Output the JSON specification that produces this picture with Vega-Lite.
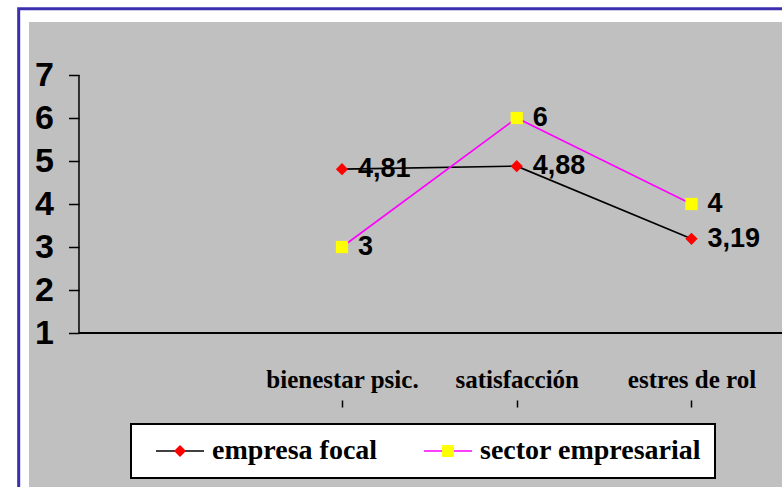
{
  "$schema": "https://vega.github.io/schema/vega-lite/v6.json",
  "width": 753,
  "height": 465,
  "autosize": {"type": "none"},
  "padding": {"left": 29, "top": 22, "right": 0, "bottom": 0},
  "background": "#ffffff",
  "config": {
    "view": {"fill": "#c0c0c0", "stroke": null},
    "locale": {"number": {"decimal": ",", "thousands": ".", "grouping": [3], "currency": ["", " €"]}},
    "axis": {"grid": false, "title": null},
    "legend": {"strokeWidth": 2}
  },
  "data": {"values": [
    {"dimension": "bienestar psic.", "orden": 1, "serie": "empresa focal", "valor": 4.81},
    {"dimension": "satisfacción", "orden": 2, "serie": "empresa focal", "valor": 4.88},
    {"dimension": "estres de rol", "orden": 3, "serie": "empresa focal", "valor": 3.19},
    {"dimension": "bienestar psic.", "orden": 1, "serie": "sector empresarial", "valor": 3},
    {"dimension": "satisfacción", "orden": 2, "serie": "sector empresarial", "valor": 6},
    {"dimension": "estres de rol", "orden": 3, "serie": "sector empresarial", "valor": 4}
  ]},
  "layer": [
    {
      "mark": {"type": "line", "strokeWidth": 1.6},
      "encoding": {
        "x": {
          "field": "orden", "type": "quantitative",
          "scale": {"domain": [-0.791, 3.518], "nice": false, "zero": false},
          "axis": {
            "values": [1, 2, 3],
            "labelExpr": "datum.value == 1 ? 'bienestar psic.' : datum.value == 2 ? 'satisfacción' : 'estres de rol'",
            "offset": -87, "domain": false, "ticks": true, "tickSize": 7, "tickWidth": 1.5, "tickColor": "#000000",
            "labelFont": "Liberation Serif", "labelFontSize": 25, "labelFontWeight": "bold", "labelColor": "#000000",
            "labelBaseline": "alphabetic", "labelPadding": -20, "labelFlush": false, "labelOverlap": false, "title": null
          }
        },
        "y": {
          "field": "valor", "type": "quantitative",
          "scale": {"domain": [-2.5814, 8.2326], "nice": false, "zero": false},
          "axis": {
            "values": [1, 2, 3, 4, 5, 6, 7],
            "offset": -50, "domain": false, "ticks": true, "tickSize": 10.5, "tickWidth": 1.5, "tickColor": "#000000",
            "labelFont": "Liberation Sans", "labelFontSize": 34, "labelFontWeight": "bold", "labelColor": "#000000",
            "labelPadding": 15, "title": null
          }
        },
        "stroke": {
          "field": "serie", "type": "nominal",
          "scale": {"domain": ["empresa focal", "sector empresarial"], "range": ["#000000", "#ff00ff"]},
          "legend": {
            "orient": "none", "legendX": 102, "legendY": 402, "direction": "horizontal", "title": null,
            "fillColor": "#ffffff", "strokeColor": "#000000", "padding": 13, "clipHeight": 28,
            "symbolType": "M-4,0H4", "symbolSize": 144, "symbolStrokeWidth": 1.6, "symbolOffset": 22,
            "labelOffset": 18, "labelFont": "Liberation Serif", "labelFontSize": 28, "labelFontWeight": "bold",
            "labelColor": "#000000", "labelLimit": 400, "columnPadding": 34, "zindex": 1
          }
        }
      }
    },
    {
      "data": {"values": [{}]},
      "mark": {"type": "rect", "filled": false, "stroke": "#3b2fae", "strokeWidth": 3},
      "encoding": {
        "x": {"datum": -0.85, "type": "quantitative", "scale": {"domain": [-0.791, 3.518], "nice": false, "zero": false}},
        "x2": {"datum": 3.8},
        "y": {"datum": 8.542, "type": "quantitative", "scale": {"domain": [-2.5814, 8.2326], "nice": false, "zero": false}},
        "y2": {"datum": -3.5}
      }
    },
    {
      "data": {"values": [{}]},
      "mark": {"type": "rule", "stroke": "#000000", "strokeWidth": 1.5},
      "encoding": {
        "x": {"datum": -0.505, "type": "quantitative", "scale": {"domain": [-0.791, 3.518], "nice": false, "zero": false}},
        "y": {"datum": 1, "type": "quantitative", "scale": {"domain": [-2.5814, 8.2326], "nice": false, "zero": false}},
        "y2": {"datum": 7}
      }
    },
    {
      "data": {"values": [{}]},
      "mark": {"type": "rule", "stroke": "#000000", "strokeWidth": 2},
      "encoding": {
        "x": {"datum": -0.505, "type": "quantitative", "scale": {"domain": [-0.791, 3.518], "nice": false, "zero": false}},
        "x2": {"datum": 3.518},
        "y": {"datum": 1, "type": "quantitative", "scale": {"domain": [-2.5814, 8.2326], "nice": false, "zero": false}}
      }
    },
    {
      "mark": {"type": "point", "filled": true, "size": 150, "opacity": 1, "strokeWidth": 0},
      "encoding": {
        "x": {"field": "orden", "type": "quantitative", "scale": {"domain": [-0.791, 3.518], "nice": false, "zero": false}},
        "y": {"field": "valor", "type": "quantitative", "scale": {"domain": [-2.5814, 8.2326], "nice": false, "zero": false}},
        "fill": {
          "field": "serie", "type": "nominal",
          "scale": {"range": ["#ff0000", "#ffff00"]},
          "legend": {
            "orient": "none", "legendX": 102, "legendY": 402, "direction": "horizontal", "title": null,
            "padding": 13, "clipHeight": 28, "symbolSize": 144, "symbolStrokeWidth": 1.6, "symbolStrokeColor": "transparent", "symbolOffset": 22,
            "labelOffset": 18, "labelFont": "Liberation Serif", "labelFontSize": 28, "labelFontWeight": "bold",
            "labelOpacity": 0, "labelLimit": 400, "columnPadding": 34, "zindex": 2
          }
        },
        "shape": {
          "field": "serie", "type": "nominal",
          "scale": {"range": ["diamond", "square"]},
          "legend": {
            "orient": "none", "legendX": 102, "legendY": 402, "direction": "horizontal", "title": null,
            "padding": 13, "clipHeight": 28, "symbolSize": 144, "symbolStrokeWidth": 1.6, "symbolStrokeColor": "transparent", "symbolOffset": 22,
            "labelOffset": 18, "labelFont": "Liberation Serif", "labelFontSize": 28, "labelFontWeight": "bold",
            "labelOpacity": 0, "labelLimit": 400, "columnPadding": 34, "zindex": 2
          }
        }
      }
    },
    {
      "mark": {"type": "text", "align": "left", "baseline": "middle", "dx": 16, "font": "Liberation Sans", "fontSize": 27, "fontWeight": "bold", "color": "#000000"},
      "encoding": {
        "x": {"field": "orden", "type": "quantitative", "scale": {"domain": [-0.791, 3.518], "nice": false, "zero": false}},
        "y": {"field": "valor", "type": "quantitative", "scale": {"domain": [-2.5814, 8.2326], "nice": false, "zero": false}},
        "text": {"field": "valor", "type": "quantitative", "format": ".3~r"}
      }
    }
  ]
}
